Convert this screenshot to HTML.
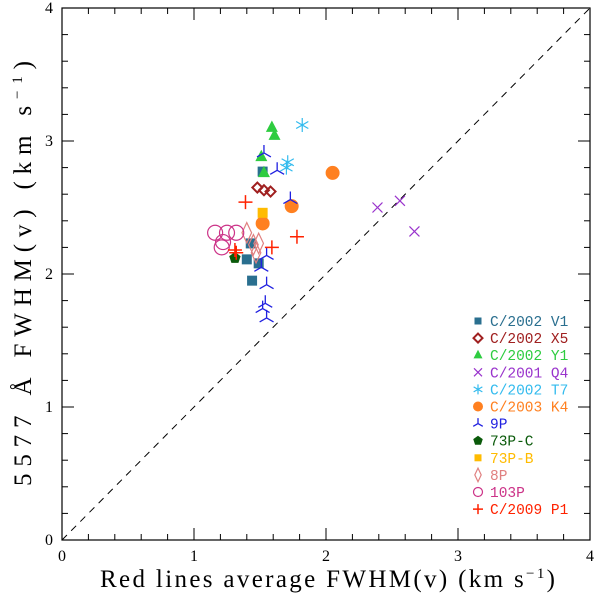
<!DOCTYPE html>
<html><head><meta charset="utf-8"><style>
body{margin:0;background:#fff}
svg{display:block}
text{font-family:"Liberation Serif",serif}
.lg{font-family:"Liberation Mono",monospace;font-size:14.5px}
</style></head><body>
<svg id="c" width="600" height="598"></svg>
<script>
const seriesNames=["C/2002 V1","C/2002 X5","C/2002 Y1","C/2001 Q4","C/2002 T7","C/2003 K4","9P","73P-C","73P-B","8P","103P","C/2009 P1"];
const seriesColors=["#2a6f8f","#a02020","#2ecc40","#9933cc","#33bbee","#ff8020","#2020e0","#0a5a0a","#ffbb00","#e08080","#cc3388","#ff2200"];
const seriesMarkers=["square","diamond","triangle","x","asterisk","circle","tri","pentagon","square","thindiamond","ocircle","plus"];
const xV1=[1.52,1.43,1.40,1.49,1.44], yV1=[2.77,2.23,2.11,2.08,1.95];
const xX5=[1.48,1.53,1.58], yX5=[2.65,2.63,2.62];
const xY1=[1.59,1.61,1.51,1.53], yY1=[3.10,3.04,2.88,2.76];
const xQ4=[2.39,2.56,2.67], yQ4=[2.50,2.55,2.32];
const xT7=[1.82,1.71,1.70], yT7=[3.12,2.84,2.80];
const xK4=[2.05,1.74,1.52], yK4=[2.76,2.51,2.38];
const x9P=[1.53,1.63,1.73,1.55,1.51,1.55,1.54,1.52,1.55], y9P=[2.91,2.78,2.56,2.14,2.05,1.92,1.78,1.74,1.67];
const x73C=[1.31], y73C=[2.12];
const x73B=[1.52], y73B=[2.46];
const x8P=[1.40,1.45,1.49,1.47], y8P=[2.31,2.22,2.23,2.16];
const x103P=[1.16,1.25,1.32,1.22,1.21], y103P=[2.31,2.31,2.31,2.24,2.20];
const xP1=[1.39,1.78,1.59,1.31,1.32], yP1=[2.54,2.28,2.20,2.18,2.16];
const allX=[xV1,xX5,xY1,xQ4,xT7,xK4,x9P,x73C,x73B,x8P,x103P,xP1];
const allY=[yV1,yX5,yY1,yQ4,yT7,yK4,y9P,y73C,y73B,y8P,y103P,yP1];
const majorTicks=["0","1","2","3","4"];

const NS="http://www.w3.org/2000/svg";
const svg=document.getElementById('c');
const L=62,R=590,T=8,B=540;
const sx=v=>L+v*(R-L)/4, sy=v=>B-v*(B-T)/4;
function mk(tag,attrs,parent){const e=document.createElementNS(NS,tag);for(const k in attrs)e.setAttribute(k,attrs[k]);(parent||svg).appendChild(e);return e;}
const frame=mk('rect',{x:L,y:T,width:R-L,height:B-T,fill:'none',stroke:'#000','stroke-width':1.2});


for(let i=0;i<=20;i++){const v=i*0.2,maj=i%5===0,len=maj?12:6;
 const X=sx(v),Y=sy(v);
 mk('line',{x1:X,y1:B,x2:X,y2:B-len,stroke:'#000'});mk('line',{x1:X,y1:T,x2:X,y2:T+len,stroke:'#000'});
 mk('line',{x1:L,y1:Y,x2:L+len,y2:Y,stroke:'#000'});mk('line',{x1:R,y1:Y,x2:R-len,y2:Y,stroke:'#000'});}
majorTicks.forEach((t,i)=>{
 const a=mk('text',{x:sx(i),y:B+21,'text-anchor':'middle','font-size':16});a.textContent=t;
 
 
 const b=mk('text',{x:L-9,y:sy(i)+5,'text-anchor':'end','font-size':16});b.textContent=t;
 
 
});
const diag=mk('line',{x1:sx(0),y1:sy(0),x2:sx(4),y2:sy(4),stroke:'#000','stroke-dasharray':'7,6'});


const xt=mk('text',{x:100,y:587,'font-size':25,textLength:455,lengthAdjust:'spacing'});
xt.innerHTML='Red lines average FWHM(v)  (km s<tspan dy="-9" font-size="15">−1</tspan><tspan dy="9">)</tspan>';


const yt=mk('text',{x:0,y:0,'font-size':25,textLength:425,lengthAdjust:'spacing',transform:'translate(31,486) rotate(-90)'});
yt.innerHTML='5577 Å FWHM(v)  (km s<tspan dy="-9" font-size="15">−1</tspan><tspan dy="9">)</tspan>';



function marker(type,X,Y,c,s,g){
 switch(type){
 case 'square':return mk('rect',{x:X-s,y:Y-s,width:2*s,height:2*s,fill:c},g);
 case 'diamond':return mk('polygon',{points:`${X},${Y-s} ${X+s},${Y} ${X},${Y+s} ${X-s},${Y}`,fill:'none',stroke:c,'stroke-width':2},g);
 case 'thindiamond':return mk('polygon',{points:`${X},${Y-s*1.7} ${X+s*0.8},${Y} ${X},${Y+s*1.7} ${X-s*0.8},${Y}`,fill:'none',stroke:c,'stroke-width':1.2},g);
 case 'triangle':return mk('polygon',{points:`${X},${Y-s*1.2} ${X+s},${Y+s*0.7} ${X-s},${Y+s*0.7}`,fill:c},g);
 case 'x':return mk('path',{d:`M${X-s} ${Y-s}L${X+s} ${Y+s}M${X-s} ${Y+s}L${X+s} ${Y-s}`,stroke:c,'stroke-width':1.2},g);
 case 'asterisk':return mk('path',{d:`M${X} ${Y-s}V${Y+s}M${X-s*0.87} ${Y-s/2}L${X+s*0.87} ${Y+s/2}M${X-s*0.87} ${Y+s/2}L${X+s*0.87} ${Y-s/2}`,stroke:c,'stroke-width':1.2},g);
 case 'circle':return mk('circle',{cx:X,cy:Y,r:s,fill:c},g);
 case 'ocircle':return mk('circle',{cx:X,cy:Y,r:s,fill:'none',stroke:c,'stroke-width':1.2},g);
 case 'tri':return mk('path',{d:`M${X} ${Y}V${Y-s}M${X} ${Y}L${X-s*0.87} ${Y+s/2}M${X} ${Y}L${X+s*0.87} ${Y+s/2}`,stroke:c,'stroke-width':1.3,fill:'none'},g);
 case 'pentagon':{let p=[];for(let k=0;k<5;k++){const a=-Math.PI/2+k*2*Math.PI/5;p.push((X+s*Math.cos(a))+','+(Y+s*Math.sin(a)));}return mk('polygon',{points:p.join(' '),fill:c},g);}
 case 'plus':return mk('path',{d:`M${X-s} ${Y}H${X+s}M${X} ${Y-s}V${Y+s}`,stroke:c,'stroke-width':1.5},g);
 }}
const plotSize={square:5,diamond:5,thindiamond:6,triangle:6,x:5,asterisk:7,circle:7,ocircle:7.5,tri:8,pentagon:6,plus:7};
const legSize={square:3.5,diamond:4.5,thindiamond:4,triangle:4.5,x:4,asterisk:5,circle:5,ocircle:4.5,tri:5.5,pentagon:5,plus:5};
seriesNames.forEach((n,i)=>{
 const g=mk('g',{});
 
 
 allX[i].forEach((xv,j)=>{const m=marker(seriesMarkers[i],sx(xv),sy(allY[i][j]),seriesColors[i],plotSize[seriesMarkers[i]],g);
  
  });
 const ly=321+i*17.1;
 const lg=mk('g',{});
 
 
 marker(seriesMarkers[i],478,ly,seriesColors[i],legSize[seriesMarkers[i]],lg);
 const t=mk('text',{x:490,y:ly+5,fill:seriesColors[i],class:'lg'},lg);t.textContent=n;
});
</script>
</body></html>
